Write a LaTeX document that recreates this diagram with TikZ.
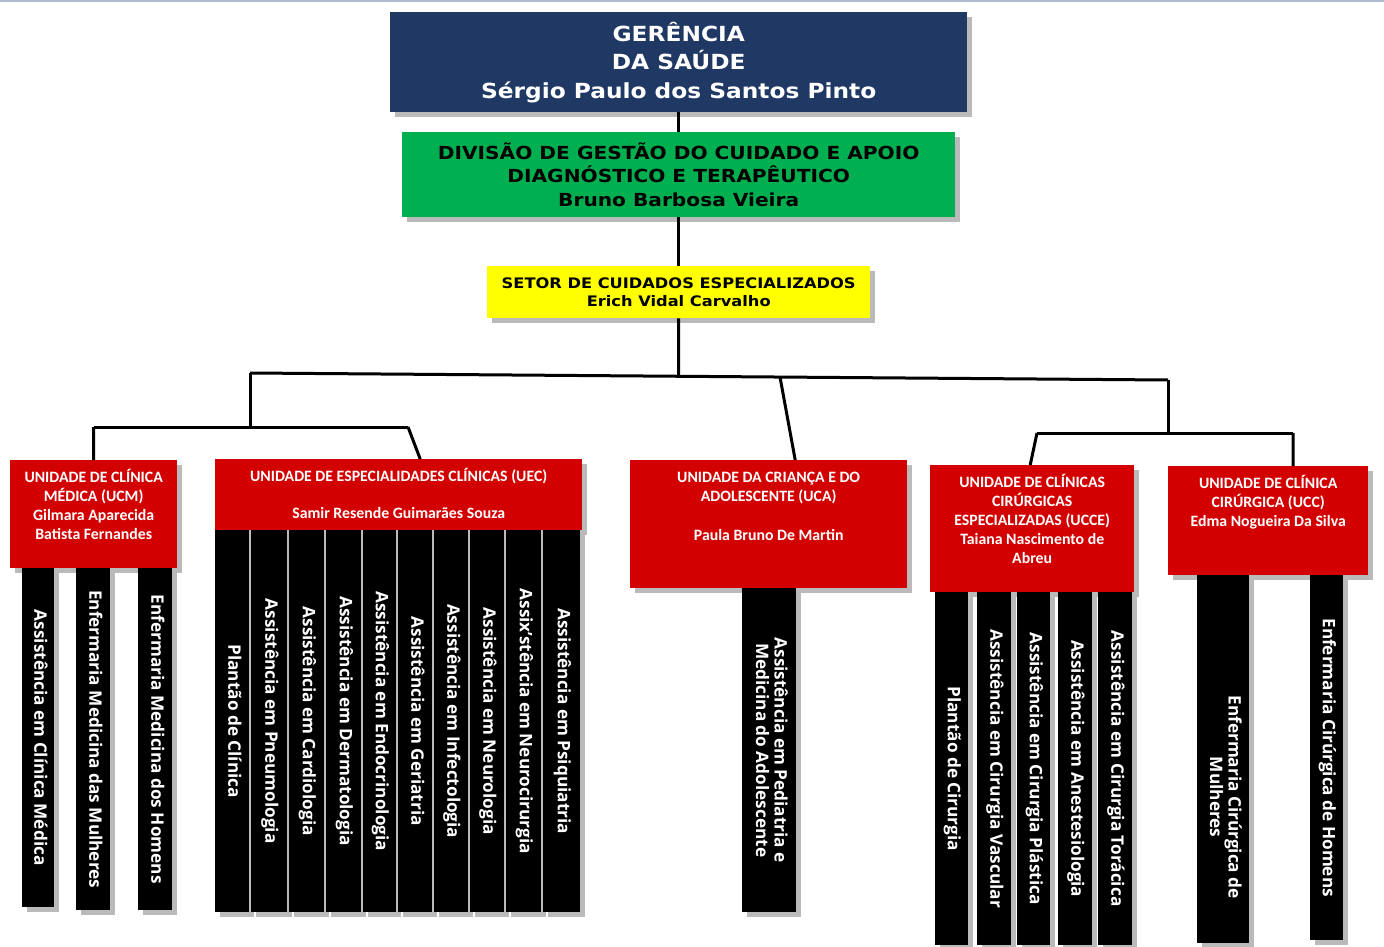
\documentclass[tikz,border=0pt]{standalone}
\usepackage{fontspec}
\usepackage{graphicx}
\usetikzlibrary{shadows}
\newfontfamily\headfont{DejaVu Sans}[FakeStretch=1.12]
\newfontfamily\unitfont{Carlito}
\newfontfamily\colfont{Open Sans}
\definecolor{headblue}{RGB}{31,56,100}
\definecolor{divgreen}{RGB}{0,176,80}
\definecolor{setyellow}{RGB}{255,255,0}
\definecolor{unitred}{RGB}{210,0,0}
\definecolor{edge}{RGB}{175,188,210}
\newcommand{\vlabel}[2][0pt]{\rotatebox{-90}{\hspace*{#1}\begin{tabular}{@{}c@{}}#2\end{tabular}}}
\newcommand{\utext}[3]{\parbox[c][#2][t]{#1}{\centering\rule{0pt}{22pt}#3}}
\tikzstyle{boss}=[anchor=north west, inner sep=0pt, align=center, drop shadow={shadow xshift=5pt, shadow yshift=-5pt, fill=black!45, opacity=.6}]
\tikzstyle{unit}=[boss, fill=unitred, text=white, font=\unitfont\bfseries\fontsize{15.8}{19}\selectfont]
\tikzstyle{col}=[boss, fill=black, text=white, font=\colfont\bfseries\fontsize{17.2}{18}\selectfont]
\tikzstyle{link}=[line width=3pt, black]

\begin{document}
\begin{tikzpicture}[x=1pt, y=-1pt]
\useasboundingbox (0,0) rectangle (1384,947);
\fill[white] (0,0) rectangle (1384,947);
\draw[edge, line width=2pt] (0,1) -- (1384,1);
% Direction
    \node[boss, fill=headblue, text=white, minimum width=577, minimum height=100, font=\headfont\bfseries\fontsize{20.8}{28.5}\selectfont] (ger) at (390,12) {GERÊNCIA\\DA SAÚDE\\Sérgio Paulo dos Santos Pinto};
    \node[boss, fill=divgreen, minimum width=553, minimum height=85, font=\headfont\bfseries\fontsize{18}{23.5}\selectfont] (div) at (402,132) {DIVISÃO DE GESTÃO DO CUIDADO E APOIO\\DIAGNÓSTICO E TERAPÊUTICO\\Bruno Barbosa Vieira};
    \node[boss, fill=setyellow, minimum width=383, minimum height=52, font=\headfont\bfseries\fontsize{14.5}{18}\selectfont] (setor) at (487,266) {SETOR DE CUIDADOS ESPECIALIZADOS\\Erich Vidal Carvalho};
% Units
    \node[unit] (ucm) at (10,460) {\utext{167pt}{108pt}{UNIDADE DE CLÍNICA\\MÉDICA (UCM)\\Gilmara Aparecida\\Batista Fernandes}};
    \node[unit] (uec) at (215,459) {\utext{367pt}{71pt}{UNIDADE DE ESPECIALIDADES CLÍNICAS (UEC)\\[18pt]Samir Resende Guimarães Souza}};
    \node[unit] (uca) at (630,460) {\utext{277pt}{128pt}{UNIDADE DA CRIANÇA E DO\\ADOLESCENTE (UCA)\\[20pt]Paula Bruno De Martin}};
    \node[unit] (ucce) at (930,465) {\utext{204pt}{127pt}{UNIDADE DE CLÍNICAS\\CIRÚRGICAS\\ESPECIALIZADAS (UCCE)\\Taiana Nascimento de\\Abreu}};
    \node[unit] (ucc) at (1168,466) {\utext{200pt}{109pt}{UNIDADE DE CLÍNICA\\CIRÚRGICA (UCC)\\Edma Nogueira Da Silva}};
% Lines
    \coordinate (busM) at (678.5,376);
    \coordinate (busL) at (250,373);
    \coordinate (busR) at (1168,380);
    \coordinate (busC) at (780,377);
    \coordinate (forkL) at (250,427);
    \coordinate (barLa) at (93.5,427);
    \coordinate (barLb) at (408,427);
    \coordinate (forkR) at (1168,433);
    \coordinate (barRa) at (1037,433);
    \coordinate (barRb) at (1293,433);
    \draw[link] (ger) -- (div);
    \draw[link] (div) -- (setor);
    \draw[link] (setor) -- (busM);
    \draw[link] (busL) -- (busR);
    \draw[link] (busL) -- (forkL);
    \draw[link] (barLa) -- (barLb);
    \draw[link] (barLa) -- (ucm);
    \draw[link] (barLb) -- ([xshift=21.5pt]uec.north);
    \draw[link] (busC) -- ([xshift=26.5pt]uca.north);
    \draw[link] (busR) -- (forkR);
    \draw[link] (barRa) -- (barRb);
    \draw[link] (barRa) -- ([xshift=-2pt]ucce.north);
    \draw[link] (barRb) -- ([xshift=25pt]ucc.north);
% Services UCM
    \node[col, minimum width=32, minimum height=339] (ucm1) at (22,568) {\vlabel{Assistência em Clínica Médica}};
    \node[col, minimum width=34, minimum height=342] (ucm2) at (76,568) {\vlabel{Enfermaria Medicina das Mulheres}};
    \node[col, minimum width=34, minimum height=342] (ucm3) at (138,568) {\vlabel{Enfermaria Medicina dos Homens}};
% Services UEC
    \node[col, minimum width=34, minimum height=382] (uec1) at (215,530) {\vlabel{Plantão de Clínica}};
    \node[col, minimum width=36, minimum height=382] (uec2) at (251,530) {\vlabel{Assistência em Pneumologia}};
    \node[col, minimum width=35, minimum height=382] (uec3) at (289,530) {\vlabel{Assistência em Cardiologia}};
    \node[col, minimum width=35, minimum height=382] (uec4) at (326,530) {\vlabel{Assistência em Dermatologia}};
    \node[col, minimum width=33, minimum height=382] (uec5) at (363,530) {\vlabel{Assistência em Endocrinologia}};
    \node[col, minimum width=34, minimum height=382] (uec6) at (398,530) {\vlabel{Assistência em Geriatria}};
    \node[col, minimum width=34, minimum height=382] (uec7) at (434,530) {\vlabel{Assistência em Infectologia}};
    \node[col, minimum width=34, minimum height=382] (uec8) at (470,530) {\vlabel{Assistência em Neurologia}};
    \node[col, minimum width=35, minimum height=382] (uec9) at (506,530) {\vlabel{Assix’stência em Neurocirurgia}};
    \node[col, minimum width=37, minimum height=382] (uec10) at (543,530) {\vlabel{Assistência em Psiquiatria}};
% Services UCA
    \node[col, minimum width=54, minimum height=324] (uca1) at (742,588) {\vlabel{Assistência em Pediatria e\\Medicina do Adolescente}};
% Services UCCE
    \node[col, minimum width=33, minimum height=353] (ucce1) at (935,592) {\vlabel{Plantão de Cirurgia}};
    \node[col, minimum width=34, minimum height=353] (ucce2) at (977,592) {\vlabel{Assistência em Cirurgia Vascular}};
    \node[col, minimum width=33, minimum height=353] (ucce3) at (1017,592) {\vlabel{Assistência em Cirurgia Plástica}};
    \node[col, minimum width=34, minimum height=353] (ucce4) at (1058,592) {\vlabel{Assistência em Anestesiologia}};
    \node[col, minimum width=34, minimum height=353] (ucce5) at (1098,592) {\vlabel{Assistência em Cirurgia Torácica}};
% Services UCC
    \node[col, minimum width=52, minimum height=368] (ucc1) at (1197,575) {\vlabel[76pt]{Enfermaria Cirúrgica de\\Mulheres}};
    \node[col, minimum width=33, minimum height=365] (ucc2) at (1310,575) {\vlabel{Enfermaria Cirúrgica de Homens}};
\end{tikzpicture}
\end{document}
